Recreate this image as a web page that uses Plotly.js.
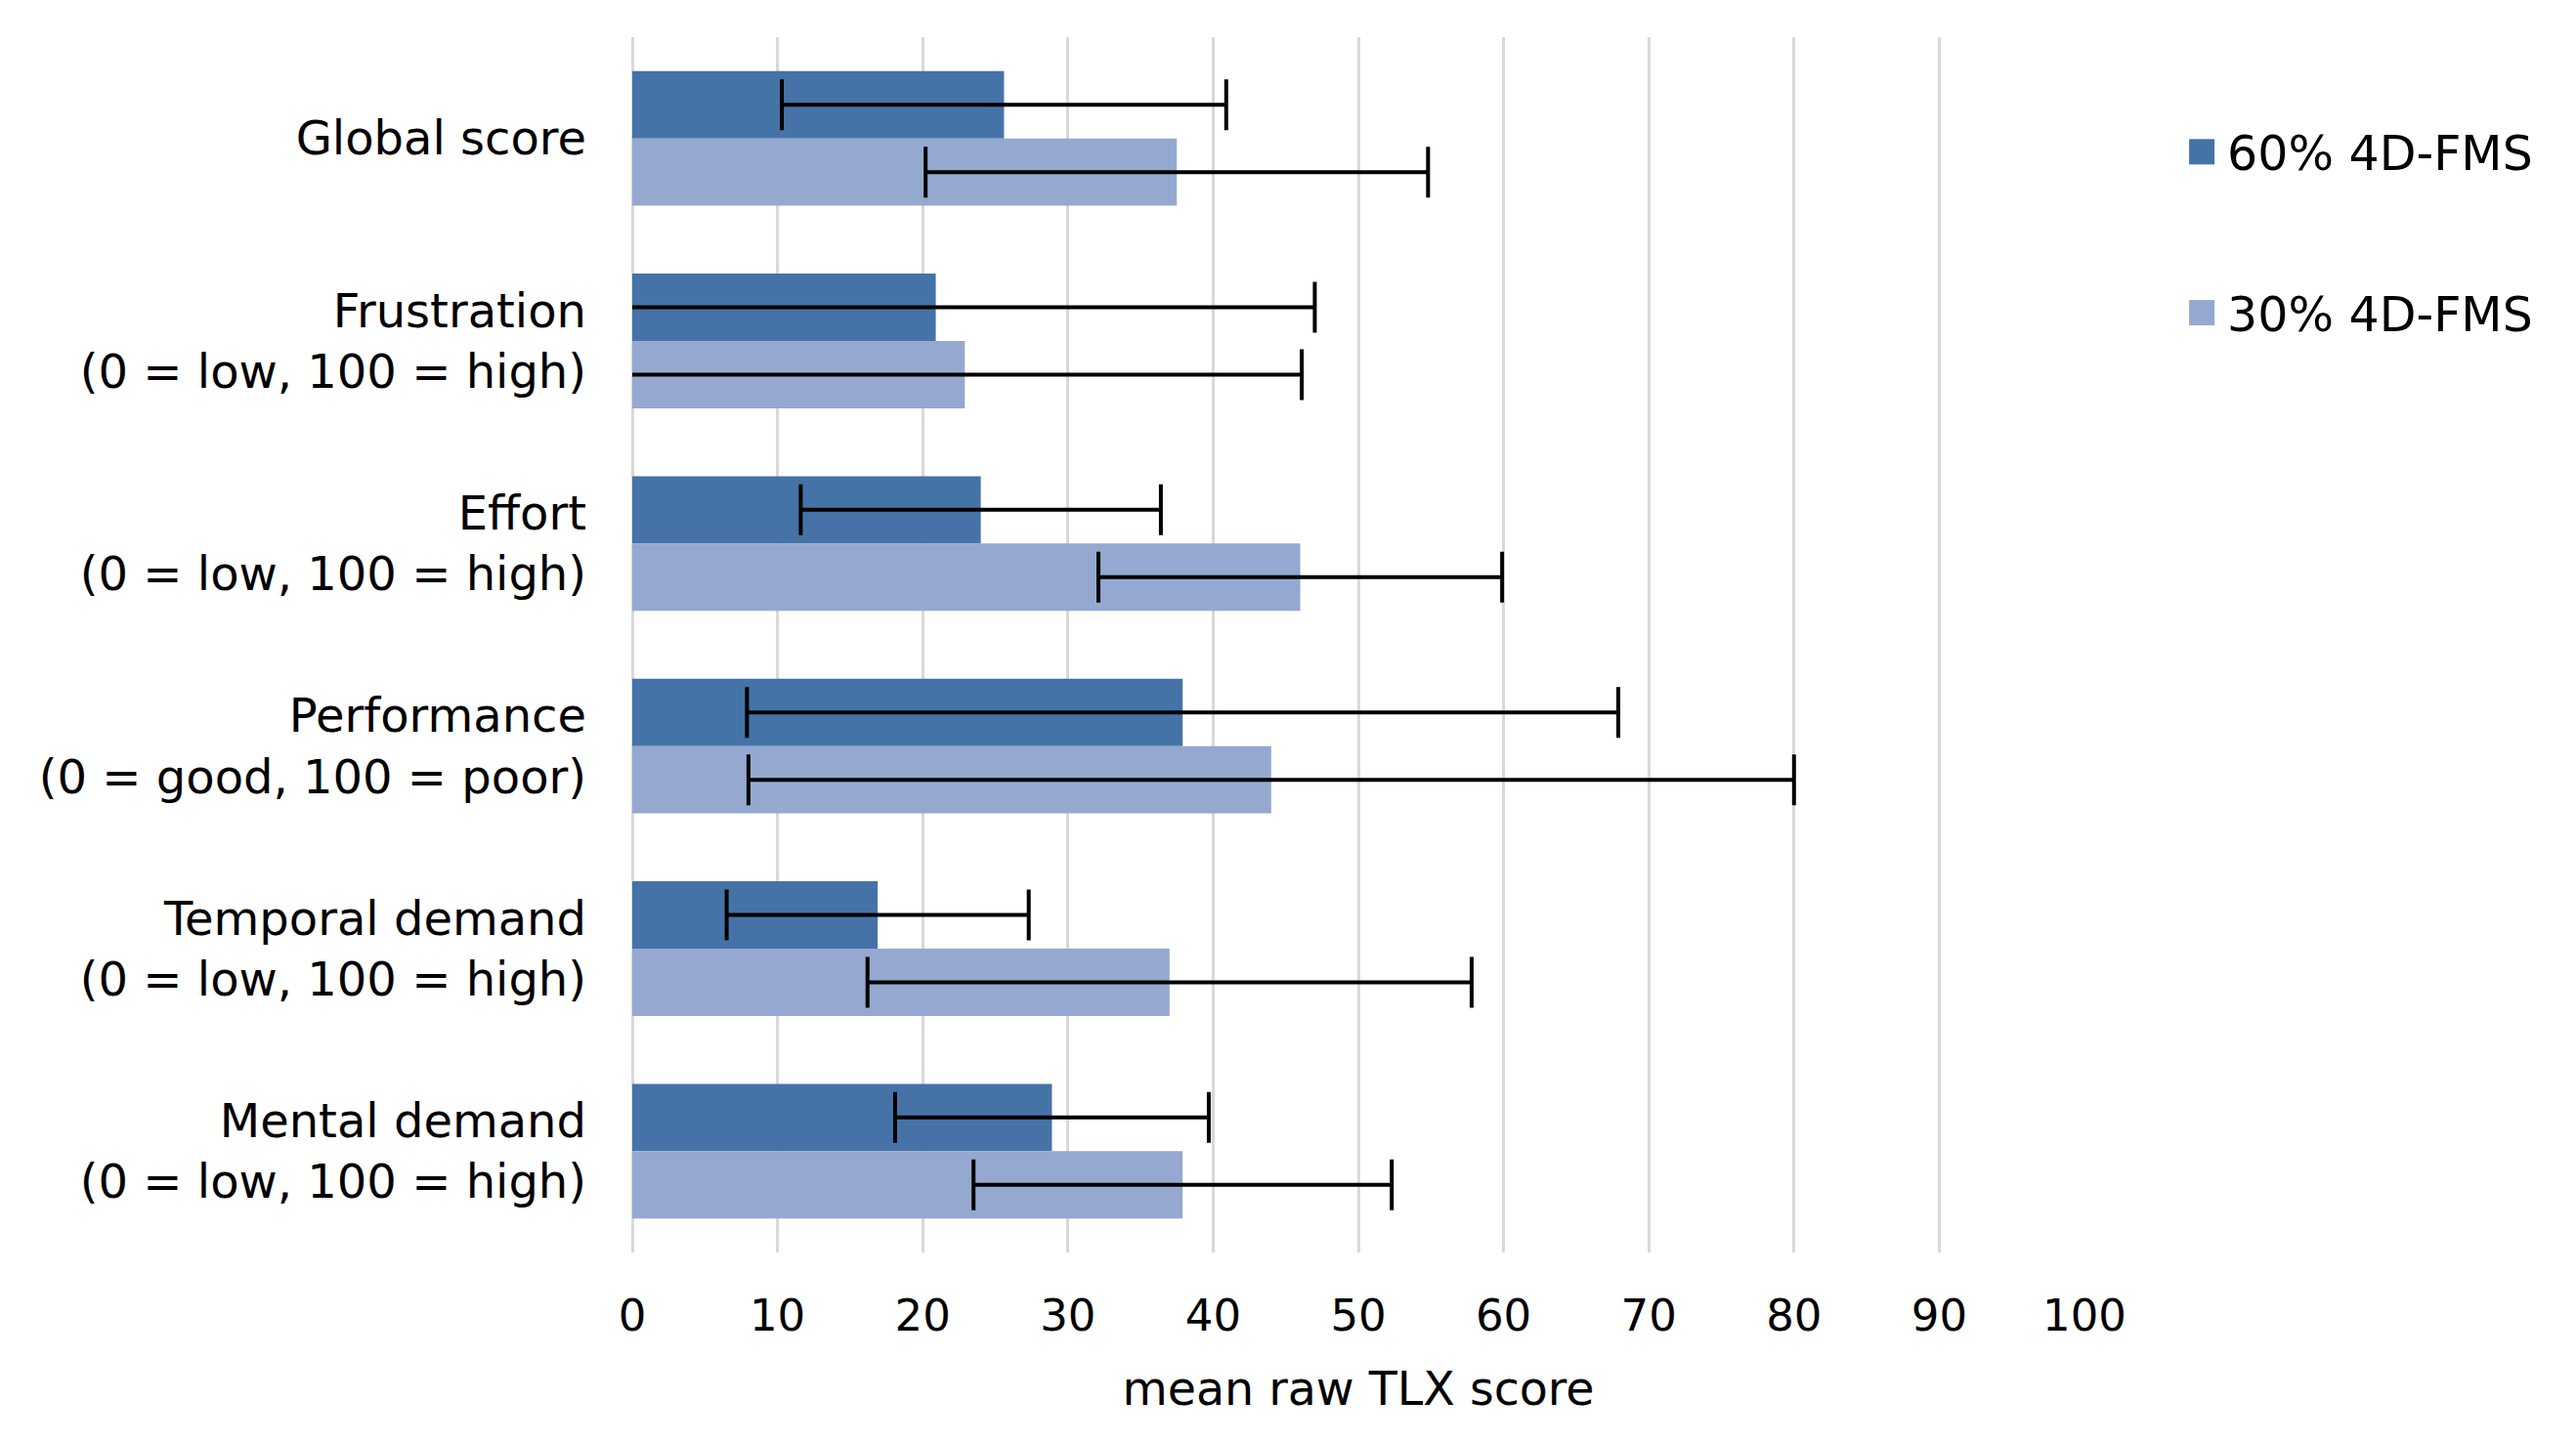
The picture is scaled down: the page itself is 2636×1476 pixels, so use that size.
<!DOCTYPE html>
<html>
<head>
<meta charset="utf-8">
<script src="https://cdn.plot.ly/plotly-3.0.1.min.js"></script>
<style>
  html, body { margin: 0; padding: 0; background: #ffffff; }
  #chart { width: 2636px; height: 1476px; }
</style>
</head>
<body>
<div id="chart"></div>
<script>
// Categories, top to bottom
const categories = [
  "Global score",
  "Frustration<br>(0 = low, 100 = high)",
  "Effort<br>(0 = low, 100 = high)",
  "Performance<br>(0 = good, 100 = poor)",
  "Temporal demand<br>(0 = low, 100 = high)",
  "Mental demand<br>(0 = low, 100 = high)"
];

// Series: mean raw TLX score
const series60Name = "60% 4D-FMS";
const series60 = [25.6, 20.9, 24.0, 37.9, 16.9, 28.9];
const series60Err = [15.3, 26.1, 12.4, 30.0, 10.4, 10.8];

const series30Name = "30% 4D-FMS";
const series30 = [37.5, 22.9, 46.0, 44.0, 37.0, 37.9];
const series30Err = [17.3, 23.2, 13.9, 36.0, 20.8, 14.4];

const xTicks = [0, 10, 20, 30, 40, 50, 60, 70, 80, 90, 100];

const font = "DejaVu Sans, Verdana, sans-serif";

const errStyle = { type: "data", visible: true, color: "#000000", thickness: 4, width: 26 };

const traces = [
  {
    type: "bar", orientation: "h",
    name: series60Name,
    y: categories, x: series60,
    marker: { color: "#4573a7" },
    error_x: Object.assign({ array: series60Err }, errStyle),
    legendgroup: "a",
    hoverinfo: "x+name"
  },
  {
    type: "bar", orientation: "h",
    name: series30Name,
    y: categories, x: series30,
    marker: { color: "#95a9d0" },
    error_x: Object.assign({ array: series30Err }, errStyle),
    legendgroup: "b",
    hoverinfo: "x+name"
  }
];

const layout = {
  width: 2636, height: 1476,
  paper_bgcolor: "#ffffff", plot_bgcolor: "#ffffff",
  font: { family: font, size: 46, color: "#000000" },
  margin: { l: 647, r: 503, t: 38, b: 194, pad: 0 },
  barmode: "group",
  bargap: 0.335,
  bargroupgap: 0,
  showlegend: true,
  legend: {
    x: 1.0714, xanchor: "left",
    y: 0.9365, yanchor: "top",
    font: { family: font, size: 49, color: "#000000" },
    traceorder: "grouped",
    tracegroupgap: 98,
    itemwidth: 30,
    bgcolor: "rgba(0,0,0,0)"
  },
  xaxis: {
    range: [0, 100],
    tickvals: xTicks,
    ticktext: xTicks.map(String),
    showgrid: true, gridcolor: "#d9d9d9", gridwidth: 3,
    zeroline: true, zerolinecolor: "#d9d9d9", zerolinewidth: 3,
    showline: false,
    ticks: "",
    ticklabelstandoff: 34,
    tickfont: { family: font, size: 45, color: "#000000" },
    title: { text: "mean raw TLX score", font: { family: font, size: 47.5, color: "#000000" }, standoff: 32 },
    fixedrange: true
  },
  yaxis: {
    type: "category",
    categoryorder: "array",
    categoryarray: categories,
    autorange: "reversed",
    showgrid: false, zeroline: false, showline: false,
    ticks: "",
    ticklabelstandoff: 46,
    tickfont: { family: font, size: 48, color: "#000000" },
    fixedrange: true
  }
};

function enlargeLegendKeys() {
  document.querySelectorAll("#chart .legend .legendpoints path").forEach(function (p) {
    p.setAttribute("d", "M7,13H-19V-13H7Z");
  });
}

Plotly.newPlot("chart", traces, layout, { displayModeBar: false, staticPlot: true }).then(function (gd) {
  enlargeLegendKeys();
  gd.on("plotly_afterplot", enlargeLegendKeys);
});
</script>
</body>
</html>
